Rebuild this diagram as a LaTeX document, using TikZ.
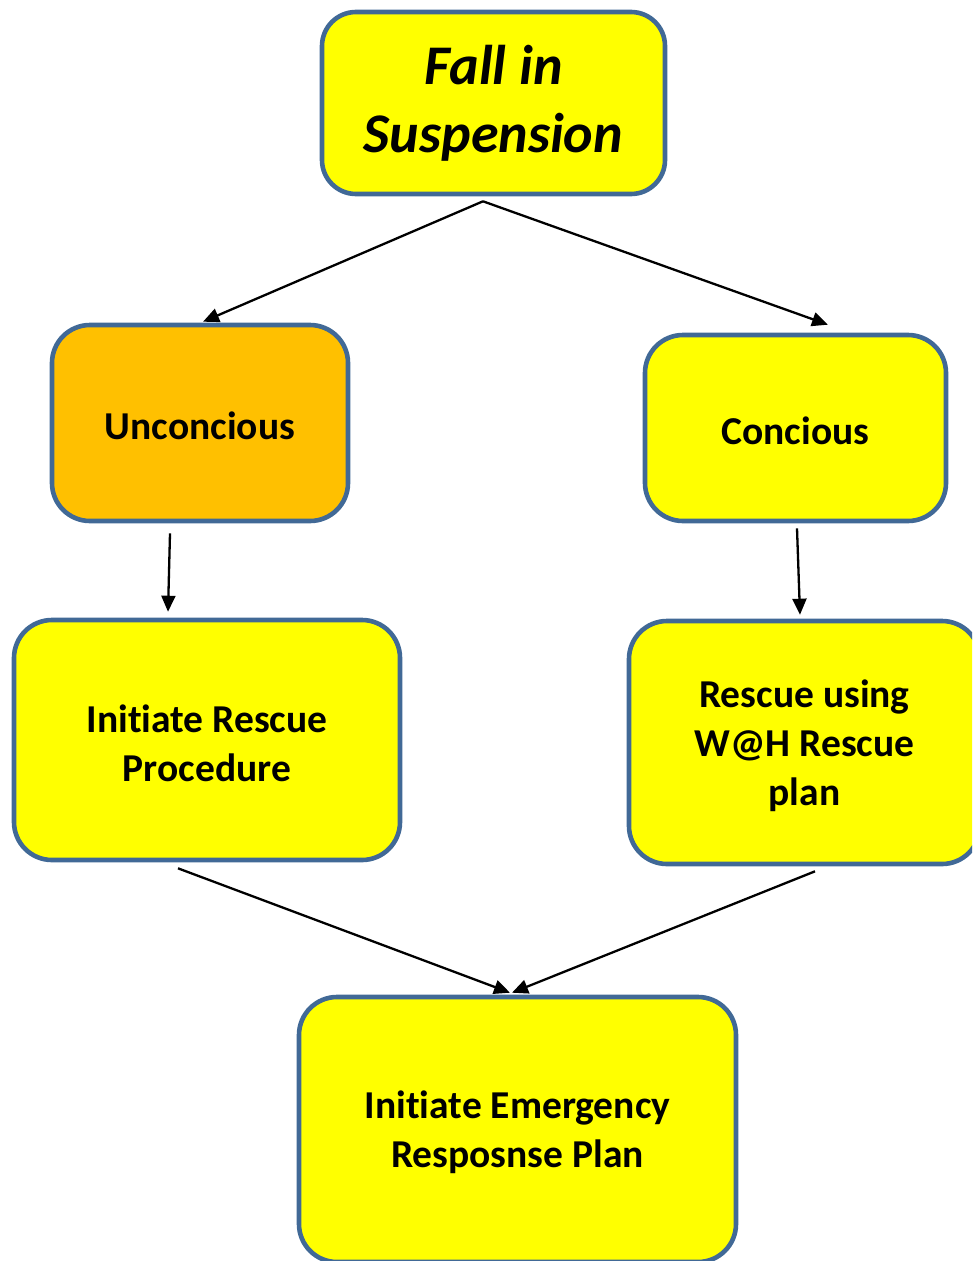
\documentclass[tikz,border=0pt]{standalone}
\usepackage{fontspec}
\setmainfont{Carlito}[Ligatures=NoCommon]
\usetikzlibrary{arrows.meta}
\definecolor{boxline}{RGB}{65,105,150}
\definecolor{boxyellow}{RGB}{255,255,0}
\definecolor{boxorange}{RGB}{255,192,0}
\newcommand{\lowtext}[1]{\raisebox{-3pt}[\height][\depth]{#1}}
\tikzset{
  flowbox/.style={draw=boxline, line width=4.6pt, fill=boxyellow, rounded corners=38pt,
    inner sep=0pt, align=center, font=\fontsize{39.5}{49}\selectfont\bfseries},
  titlebox/.style={flowbox, rounded corners=34pt, font=\fontsize{56}{68}\selectfont\bfseries\itshape},
  flowarrow/.style={draw=black, line width=2.3pt, -{Triangle[length=16pt,width=14pt]}}
}
\begin{document}
\begin{tikzpicture}[x=1pt,y=-1pt]
\useasboundingbox (0,0) rectangle (972,1261);
\clip (0,0) rectangle (972,1261);
\node[titlebox, minimum width=343pt, minimum height=182pt] (top) at (493.5,103) {Fall in\\Suspension};
\node[flowbox, fill=boxorange, minimum width=296pt, minimum height=196pt] (unc) at (200,423) {\lowtext{Unconcious}};
\node[flowbox, minimum width=301pt, minimum height=186pt] (con) at (795.5,428) {\lowtext{Concious}};
\node[flowbox, minimum width=386pt, minimum height=240pt] (irp) at (207,740) {\lowtext{Initiate Rescue}\\\lowtext{Procedure}};
\node[flowbox, minimum width=351pt, minimum height=243pt] (rwh) at (804.5,742.5) {\lowtext{Rescue using}\\\lowtext{W@H Rescue}\\\lowtext{plan}};
\node[flowbox, minimum width=437pt, minimum height=265pt] (iep) at (517.5,1129.5) {\lowtext{Initiate Emergency}\\\lowtext{Resposnse Plan}};
\coordinate (s1) at ([xshift=-10.5pt,yshift=-5pt]top.south);
\draw[flowarrow] (s1) -- ([xshift=3pt,yshift=1pt]unc.north);
\draw[flowarrow] (s1) -- ([xshift=32.5pt,yshift=8pt]con.north);
\draw[flowarrow] ([xshift=-30pt,yshift=-10pt]unc.south) -- ([xshift=-39pt,yshift=6pt]irp.north);
\draw[flowarrow] ([xshift=1.5pt,yshift=-5pt]con.south) -- ([xshift=-4.5pt,yshift=4pt]rwh.north);
\draw[flowarrow] ([xshift=-29pt,yshift=-6pt]irp.south) -- ([xshift=-7.5pt,yshift=2pt]iep.north);
\draw[flowarrow] ([xshift=10.5pt,yshift=-5pt]rwh.south) -- ([xshift=-5.5pt,yshift=2pt]iep.north);
\end{tikzpicture}
\end{document}
